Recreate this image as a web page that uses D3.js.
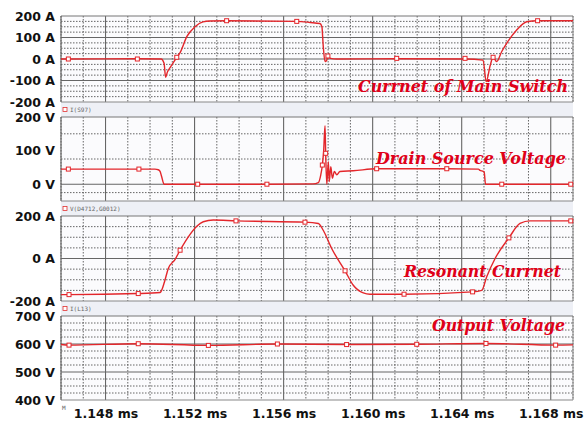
<!DOCTYPE html>
<html>
<head>
<meta charset="utf-8">
<title>Resonant Converter Waveforms</title>
<script src="https://d3js.org/d3.v7.min.js"></script>
<style>
  body { margin: 0; background: #fff; }
  .tick text { font-family: "DejaVu Sans", sans-serif; font-weight: bold; font-size: 12.5px; fill: #111; }
  .note { font-family: "DejaVu Serif", serif; font-weight: bold; font-style: italic; font-size: 16px; fill: #e00018; }
  .strip-text { font-family: "DejaVu Sans Mono", monospace; font-size: 6px; fill: #666; }
</style>
</head>
<body>
<svg id="chart" width="584" height="421"></svg>
<script>
// time axis (ms)
var xTicks = [1.148, 1.152, 1.156, 1.160, 1.164, 1.168];
var xTickLabels = ["1.148 ms", "1.152 ms", "1.156 ms", "1.160 ms", "1.164 ms", "1.168 ms"];

// current of main switch (A)
var swTime = [1.14600, 1.14633, 1.14943, 1.15050, 1.15063, 1.15070, 1.15078, 1.15090, 1.15120, 1.15135,
  1.15165, 1.15202, 1.15238, 1.15269, 1.15344, 1.15659, 1.15719, 1.15763, 1.15772, 1.15778,
  1.15786, 1.15794, 1.15799, 1.15810, 1.15840, 1.16108, 1.16415, 1.16496, 1.16510, 1.16528,
  1.16541, 1.16557, 1.16580, 1.16602, 1.16647, 1.16692, 1.16741, 1.16900];
var swAmp = [0, 0, 1, 0, -20, -85, -60, -40, 8, 30,
  104, 150, 173, 177, 178, 175, 170, 165, 150, 60,
  -12, -5, 14, 3, 0, 1, 0, -5, -105, -30,
  8, -12, 35, 73, 135, 173, 178, 178];
var swMarkTime = [1.14633, 1.14943, 1.15120, 1.15344, 1.15659, 1.15799, 1.16108, 1.16415, 1.16541, 1.16741];
var swMarkAmp = [0, 0, 8, 178, 175, 14, 3, 3, 8, 178];

// drain source voltage (V)
var dsTime = [1.14600, 1.14633, 1.14950, 1.15022, 1.15037, 1.15045, 1.15052, 1.15063, 1.15214, 1.15525,
  1.15732, 1.15756, 1.15767, 1.15774, 1.15780, 1.15786, 1.15789, 1.15794, 1.15801, 1.15805,
  1.15812, 1.15819, 1.15828, 1.15839, 1.15853, 1.15913, 1.16018, 1.16333, 1.16475, 1.16482,
  1.16497, 1.16501, 1.16507, 1.16580, 1.16900];
var dsVolt = [45, 45, 45, 45, 43, 38, 23, 0, 0, 0,
  1, 5, 28, 57, 100, 174, 92, 0, 67, 8,
  52, 18, 38, 28, 38, 40, 46, 46, 45, 41,
  38, 36, 0, 0, 0];
var dsMarkTime = [1.14633, 1.14950, 1.15214, 1.15525, 1.15774, 1.15789, 1.16018, 1.16333, 1.16580, 1.16890];
var dsMarkVolt = [45, 45, 0, 0, 57, 92, 46, 46, 0, 0];

// resonant current (A)
var resTime = [1.14600, 1.14636, 1.14947, 1.15045, 1.15052, 1.15067, 1.15082, 1.15112, 1.15135, 1.15172,
  1.15210, 1.15239, 1.15284, 1.15386, 1.15696, 1.15756, 1.15778, 1.15816, 1.15876, 1.15913,
  1.15958, 1.15988, 1.16141, 1.16449, 1.16490, 1.16512, 1.16550, 1.16612, 1.16662, 1.16707, 1.16900];
var resAmp = [-170, -170, -165, -160, -150, -102, -47, -5, 39, 102,
  152, 173, 181, 177, 171, 165, 133, 47, -58, -126,
  -162, -168, -168, -157, -150, -87, 0, 97, 165, 177, 177];
var resMarkTime = [1.14636, 1.14947, 1.15135, 1.15386, 1.15696, 1.15876, 1.16141, 1.16449, 1.16612, 1.16890];
var resMarkAmp = [-170, -165, 39, 177, 171, -58, -168, -157, 97, 177];

// output voltage (V)
var outTime = [1.14600, 1.14636, 1.14947, 1.15262, 1.15572, 1.15883, 1.16198, 1.16509, 1.16822, 1.16900];
var outVolt = [598, 596, 601, 595, 600, 598, 599, 602, 596, 597];
var outMarkTime = [1.14636, 1.14947, 1.15262, 1.15572, 1.15883, 1.16198, 1.16509, 1.16822];
var outMarkVolt = [596, 601, 595, 600, 598, 599, 602, 596];

// y tick labels
var swTicks = [200, 100, 0, -100, -200];
var swTickLabels = ["200 A", "100 A", "0 A", "-100 A", "-200 A"];
var dsTicks = [200, 100, 0];
var dsTickLabels = ["200 V", "100 V", "0 V"];
var resTicks = [200, 0, -200];
var resTickLabels = ["200 A", "0 A", "-200 A"];
var outTicks = [700, 600, 500, 400];
var outTickLabels = ["700 V", "600 V", "500 V", "400 V"];

var left = 61, right = 573;
var svg = d3.select("#chart");

var x = d3.scaleLinear().domain([1.146, 1.169]).range([left, right]);

var panels = [
  { top: 16, bottom: 102, domain: [-200, 200], minor: 25, major: [100, 0, -100],
    t: swTime, v: swAmp, mt: swMarkTime, mv: swMarkAmp, ticks: swTicks, labels: swTickLabels,
    note: "Currnet of Main Switch", nx: 358, ny: 92, nw: 210, strip: "I(S97)" },
  { top: 117, bottom: 201, domain: [-50, 200], minorList: [150, 75, -25], major: [0],
    t: dsTime, v: dsVolt, mt: dsMarkTime, mv: dsMarkVolt, ticks: dsTicks, labels: dsTickLabels,
    note: "Drain Source Voltage", nx: 376, ny: 164, nw: 190, strip: "V(D4712,G0012)" },
  { top: 216, bottom: 301, domain: [-200, 200], minor: 50, major: [0],
    t: resTime, v: resAmp, mt: resMarkTime, mv: resMarkAmp, ticks: resTicks, labels: resTickLabels,
    note: "Resonant Currnet", nx: 404, ny: 277, nw: 157, strip: "I(L13)" },
  { top: 316, bottom: 400, domain: [400, 700], minor: 25, major: [600, 500],
    t: outTime, v: outVolt, mt: outMarkTime, mv: outMarkVolt, ticks: outTicks, labels: outTickLabels,
    note: "Output Voltage", nx: 432, ny: 331, nw: 133, strip: null }
];

// label strips between panels
panels.forEach(function(p, i) {
  if (i < panels.length - 1) {
    var nextTop = panels[i + 1].top;
    svg.append("rect")
      .attr("x", left).attr("y", p.bottom)
      .attr("width", right - left).attr("height", nextTop - p.bottom)
      .attr("fill", "#eef0f6");
    var my = (p.bottom + nextTop) / 2;
    svg.append("rect")
      .attr("x", left + 2).attr("y", my - 2)
      .attr("width", 4).attr("height", 4)
      .attr("fill", "#fff").attr("stroke", "#e03030").attr("stroke-width", 0.8);
    svg.append("text")
      .attr("class", "strip-text")
      .attr("x", left + 9).attr("y", my + 2)
      .text(p.strip);
  }
});

var minorTimes = d3.range(0, 24).map(function(k) { return 1.146 + k * 0.001; });

panels.forEach(function(p) {
  var y = d3.scaleLinear().domain(p.domain).range([p.bottom, p.top]);
  var g = svg.append("g");

  g.append("rect")
    .attr("x", left).attr("y", p.top)
    .attr("width", right - left).attr("height", p.bottom - p.top)
    .attr("fill", "#fbfbfd");

  // horizontal grid
  var hMinor = p.minorList || d3.range(p.domain[0] + p.minor, p.domain[1], p.minor);
  g.selectAll(".hminor")
    .data(hMinor.filter(function(d) { return p.major.indexOf(d) < 0; }))
    .enter().append("line")
    .attr("x1", left).attr("x2", right)
    .attr("y1", function(d) { return y(d); }).attr("y2", function(d) { return y(d); })
    .attr("stroke", "#555").attr("stroke-width", 0.9).attr("stroke-dasharray", "1.5,1.5");

  // vertical grid
  g.selectAll(".vminor")
    .data(minorTimes.filter(function(d) { return Math.round(d * 1000) % 4 !== 0; }))
    .enter().append("line")
    .attr("x1", function(d) { return x(d); }).attr("x2", function(d) { return x(d); })
    .attr("y1", p.top).attr("y2", p.bottom)
    .attr("stroke", "#555").attr("stroke-width", 0.9).attr("stroke-dasharray", "1.5,1.5");

  g.selectAll(".vmajor")
    .data(xTicks)
    .enter().append("line")
    .attr("x1", function(d) { return x(d); }).attr("x2", function(d) { return x(d); })
    .attr("y1", p.top).attr("y2", p.bottom)
    .attr("stroke", "#666").attr("stroke-width", 1.1);

  g.selectAll(".hmajor")
    .data(p.major)
    .enter().append("line")
    .attr("x1", left).attr("x2", right)
    .attr("y1", function(d) { return y(d); }).attr("y2", function(d) { return y(d); })
    .attr("stroke", "#666").attr("stroke-width", 1.1);

  // frame
  g.append("line").attr("x1", left).attr("x2", right).attr("y1", p.top).attr("y2", p.top)
    .attr("stroke", "#777").attr("stroke-width", 1.2);
  g.append("line").attr("x1", left).attr("x2", right).attr("y1", p.bottom).attr("y2", p.bottom)
    .attr("stroke", "#888").attr("stroke-width", 1);
  g.append("line").attr("x1", left).attr("x2", left).attr("y1", p.top).attr("y2", p.bottom)
    .attr("stroke", "#666").attr("stroke-width", 1.2);
  g.append("line").attr("x1", right).attr("x2", right).attr("y1", p.top).attr("y2", p.bottom)
    .attr("stroke", "#888").attr("stroke-width", 1);

  // y axis labels
  var axis = d3.axisLeft(y)
    .tickValues(p.ticks)
    .tickFormat(function(d, i) { return p.labels[i]; })
    .tickSize(0).tickPadding(6);
  var ag = svg.append("g").attr("transform", "translate(" + left + ",0)").call(axis);
  ag.select(".domain").remove();

  // trace
  var pts = p.t.map(function(t, i) { return [t, p.v[i]]; });
  var line = d3.line()
    .x(function(d) { return x(d[0]); })
    .y(function(d) { return y(d[1]); })
    .curve(d3.curveMonotoneX);
  g.append("path")
    .datum(pts)
    .attr("d", line)
    .attr("fill", "none")
    .attr("stroke", "#e3262b")
    .attr("stroke-width", 1.4);

  // markers
  g.selectAll(".mark")
    .data(p.mt.map(function(t, i) { return [t, p.mv[i]]; }))
    .enter().append("rect")
    .attr("x", function(d) { return x(d[0]) - 2; })
    .attr("y", function(d) { return y(d[1]) - 2; })
    .attr("width", 4).attr("height", 4)
    .attr("fill", "#fff").attr("stroke", "#e3262b").attr("stroke-width", 1);

  // annotation
  svg.append("text")
    .attr("class", "note")
    .attr("x", p.nx).attr("y", p.ny)
    .attr("textLength", p.nw)
    .attr("lengthAdjust", "spacingAndGlyphs")
    .text(p.note);
});

// time axis
var xAxis = d3.axisBottom(x)
  .tickValues(xTicks)
  .tickFormat(function(d, i) { return xTickLabels[i]; })
  .tickSize(0).tickPadding(9.5);
var xg = svg.append("g").attr("transform", "translate(0,400)").call(xAxis);
xg.select(".domain").remove();

svg.append("text")
  .attr("class", "strip-text")
  .attr("x", left + 1).attr("y", 410)
  .text("M");
</script>
</body>
</html>
